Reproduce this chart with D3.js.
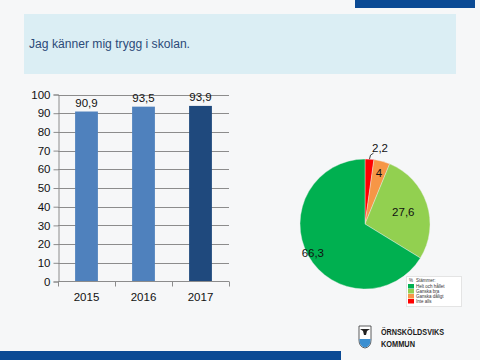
<!DOCTYPE html>
<html><head><meta charset="utf-8">
<script src="https://cdn.jsdelivr.net/npm/d3@7"></script>
<style>
html,body{margin:0;padding:0;background:#F6F7F8;}
svg{display:block;}
text{font-family:"Liberation Sans",Arial,sans-serif;}
</style></head>
<body><svg id="c" width="480" height="360"></svg>
<script>
const title = "Jag känner mig trygg i skolan.";
const years = ["2015","2016","2017"];
const yearValues = [90.9, 93.5, 93.9];
const yearLabels = ["90,9","93,5","93,9"];
const yTicks = [0,10,20,30,40,50,60,70,80,90,100];
const pieCategories = ["Inte alls","Ganska dåligt","Ganska bra","Helt och hållet"];
const pieValues = [2.2, 4, 27.6, 66.3];
const pieLabels = ["2,2","4","27,6","66,3"];
const legendOrder = ["Helt och hållet","Ganska bra","Ganska dåligt","Inte alls"];

const svg = d3.select("#c");
svg.append("rect").attr("width",480).attr("height",360).attr("fill","#F6F7F8");
svg.append("rect").attr("x",355).attr("y",0).attr("width",120).attr("height",8).attr("fill","#0B4A94");
svg.append("rect").attr("x",0).attr("y",351).attr("width",341).attr("height",9).attr("fill","#0B4A94");
svg.append("rect").attr("x",24).attr("y",14).attr("width",432).attr("height",60).attr("fill","#DBEEF4");
svg.append("text").attr("x",29).attr("y",48).attr("font-size",12.5).attr("fill","#2C4A78")
  .attr("textLength",161).attr("lengthAdjust","spacingAndGlyphs").text(title);

// Bar chart
const x = d3.scaleBand().domain(years).range([58,229]).paddingInner(0.6).paddingOuter(0.3);
const y = d3.scaleLinear().domain([0,100]).range([281.5,94.5]);
const g = svg.append("g");
g.selectAll("line.grid").data(yTicks.slice(1)).join("line")
  .attr("x1",58).attr("x2",229).attr("y1",d=>Math.round(y(d))+0.5).attr("y2",d=>Math.round(y(d))+0.5)
  .attr("stroke","#8C8C8C").attr("stroke-width",1);
const colors = ["#4F81BD","#4F81BD","#1F497D"];
g.selectAll("rect.bar").data(years).join("rect")
  .attr("x",d=>x(d)).attr("width",x.bandwidth())
  .attr("y",(d,i)=>y(yearValues[i])).attr("height",(d,i)=>y(0)-y(yearValues[i]))
  .attr("fill",(d,i)=>colors[i]);
const ya = d3.axisLeft(y).tickValues(yTicks).tickSize(5).tickPadding(3);
const yg = svg.append("g").attr("transform","translate(58.5,0)").call(ya);
yg.select(".domain").attr("stroke","#8C8C8C");
yg.selectAll(".tick line").attr("stroke","#8C8C8C");
yg.selectAll("text").attr("font-size",11.5).attr("fill","#111").attr("font-family","'Open Sans',sans-serif");
// x axis
const xg = svg.append("g");
xg.append("line").attr("x1",58).attr("x2",229).attr("y1",281.5).attr("y2",281.5).attr("stroke","#8C8C8C");
xg.selectAll("line.t").data(d3.range(years.length+1)).join("line")
  .attr("x1",i=>Math.round(58 + (229-58)*i/years.length)+0.5).attr("x2",i=>Math.round(58 + (229-58)*i/years.length)+0.5)
  .attr("y1",281.5).attr("y2",286.5).attr("stroke","#8C8C8C");
xg.selectAll("text").data(years).join("text")
  .attr("x",d=>x(d)+x.bandwidth()/2).attr("y",301).attr("text-anchor","middle")
  .attr("font-size",11.5).attr("fill","#111").attr("font-family","'Open Sans',sans-serif").text(d=>d);
g.selectAll("text.lab").data(years).join("text")
  .attr("x",d=>x(d)+x.bandwidth()/2).attr("y",(d,i)=>y(yearValues[i])-5).attr("text-anchor","middle")
  .attr("font-size",11.5).attr("fill","#111").attr("font-family","'Open Sans',sans-serif").text((d,i)=>yearLabels[i]);

// Pie
const cx = 365, cy = 224, R = 65;
const pieColors = ["#FF0000","#F79646","#92D050","#00B050"];
const pie = d3.pie().sort(null).value(d=>d)(pieValues);
const arc = d3.arc().innerRadius(0).outerRadius(R);
const pg = svg.append("g").attr("transform",`translate(${cx},${cy})`);
pg.selectAll("path").data(pie).join("path").attr("d",arc)
  .attr("fill",(d,i)=>pieColors[i]).attr("stroke","#F0F0F0").attr("stroke-width",0.4);
const labR = [1.12, 0.82, 0.62, 0.92];
pg.selectAll("text").data(pie).join("text")
  .attr("x",(d,i)=>{const a=(d.startAngle+d.endAngle)/2; return Math.sin(a)*R*labR[i] + (i===0?10:0);})
  .attr("y",(d,i)=>{const a=(d.startAngle+d.endAngle)/2; return -Math.cos(a)*R*labR[i]+4 - (i===0?3:0);})
  .attr("text-anchor","middle").attr("font-size",11.5).attr("fill","#111")
  .attr("font-family","'Open Sans',sans-serif").text((d,i)=>pieLabels[i]);
// leader line for 2,2
{
  const d = pie[0]; const a=(d.startAngle+d.endAngle)/2;
  const x0=Math.sin(a)*R, y0=-Math.cos(a)*R;
  pg.append("path").attr("d",`M${x0},${y0} L${x0+1},${y0-4} L${x0+4},${y0-6}`)
    .attr("fill","none").attr("stroke","#111").attr("stroke-width",0.8);
}
// Legend
const lg = svg.append("g");
lg.append("rect").attr("x",406.5).attr("y",276.5).attr("width",55).attr("height",30).attr("fill","#fff").attr("stroke","#e4e4e4");
lg.append("text").attr("x",409).attr("y",282).attr("font-size",4.5).attr("fill","#333").text("%");
lg.append("text").attr("x",416).attr("y",282).attr("font-size",4.5).attr("fill","#333").text("Stämmer:");
lg.selectAll("rect.k").data(legendOrder).join("rect")
  .attr("x",408).attr("y",(d,i)=>284+i*5).attr("width",6).attr("height",4.5)
  .attr("fill",d=>pieColors[pieCategories.indexOf(d)]);
lg.selectAll("text.k").data(legendOrder).join("text")
  .attr("x",416).attr("y",(d,i)=>287.8+i*5).attr("font-size",4.5).attr("fill","#333").text(d=>d);

// Logo
const lo = svg.append("g");
lo.append("path").attr("d","M359,326 L371,326 L371,340 Q371,347 365,348 Q359,347 359,340 Z").attr("fill","#fff").attr("stroke","#333").attr("stroke-width",0.8);
lo.append("path").attr("d","M359.4,339 L370.6,339 Q370.6,347 365,347.6 Q359.4,347 359.4,339 Z").attr("fill","#3B8FD1");
lo.append("path").attr("d","M360,329 L370,329 L367,331 L366,335 L364,335 L363,331 Z").attr("fill","#222");
lo.append("text").attr("x",381).attr("y",335).attr("font-size",9).attr("font-weight","bold")
  .attr("font-family","'DejaVu Sans Condensed','DejaVu Sans',sans-serif").attr("font-stretch","condensed")
  .attr("fill","#1a1a1a").attr("textLength",63).attr("lengthAdjust","spacingAndGlyphs").text("ÖRNSKÖLDSVIKS");
lo.append("text").attr("x",381).attr("y",347).attr("font-size",9).attr("font-weight","bold")
  .attr("font-family","'DejaVu Sans Condensed','DejaVu Sans',sans-serif").attr("font-stretch","condensed")
  .attr("fill","#1a1a1a").attr("textLength",34).attr("lengthAdjust","spacingAndGlyphs").text("KOMMUN");
</script></body></html>
